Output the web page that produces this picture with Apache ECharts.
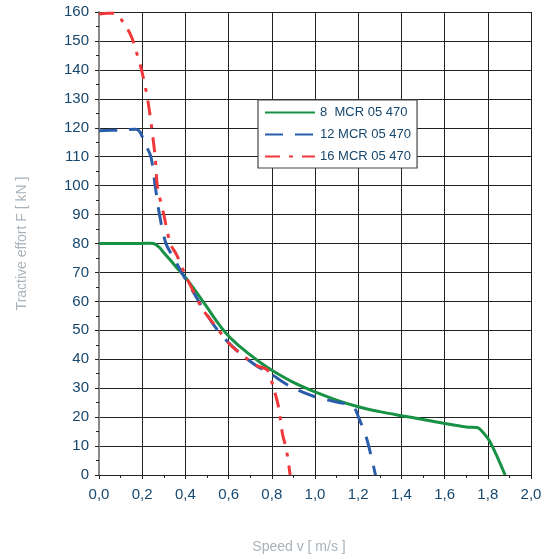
<!DOCTYPE html>
<html><head><meta charset="utf-8">
<script src="https://cdn.jsdelivr.net/npm/echarts@6/dist/echarts.min.js"></script>
<style>html,body{margin:0;padding:0;background:#fff}#c{width:550px;height:559px}</style>
</head><body><div id="c"></div>
<script>
var xTicks = ['0,0','0,2','0,4','0,6','0,8','1,0','1,2','1,4','1,6','1,8','2,0'];
var seriesNames = ['8  MCR 05 470','12 MCR 05 470','16 MCR 05 470'];
var mcr8 = [[0,80],[0.1,80],[0.2,80],[0.24,80.1],[0.26,79.8],[0.28,78.6],[0.3,76.8],[0.33,74.3],[0.36,71.6],[0.4,68.3],[0.45,63.3],[0.5,58],[0.55,52.6],[0.6,48],[0.65,44.5],[0.7,41.5],[0.75,38.7],[0.8,36.2],[0.9,32],[1.0,28.7],[1.1,25.9],[1.2,23.6],[1.3,21.9],[1.4,20.5],[1.5,19.2],[1.6,17.8],[1.7,16.6],[1.75,16.4],[1.77,15.4],[1.81,11.5],[1.88,0]];
var mcr12 = [[0,119],[0.1,119.2],[0.17,119.5],[0.19,118.5],[0.21,115],[0.24,110],[0.26,100],[0.28,90],[0.31,80],[0.35,74.5],[0.39,69],[0.43,64],[0.47,59],[0.53,52],[0.59,46.5],[0.67,41],[0.73,37.7],[0.79,35.2],[0.88,30.8],[0.99,27.3],[1.1,25.2],[1.175,23.8],[1.205,19.3],[1.24,12.4],[1.28,0]];
var mcr16 = [[0,159.3],[0.04,159.6],[0.075,159.5],[0.11,156.7],[0.15,151.5],[0.175,145.7],[0.195,140.5],[0.22,132],[0.235,125],[0.26,110],[0.27,100],[0.3,90],[0.33,80],[0.36,76],[0.4,69],[0.44,63],[0.48,57.2],[0.536,51.8],[0.605,45.2],[0.68,40.5],[0.73,37.8],[0.78,36.3],[0.805,30.8],[0.83,23.9],[0.85,14],[0.867,9],[0.885,0]];
var colors = ['#179244','#2a5daa','#f0383a'];
var chart = echarts.init(document.getElementById('c'));
var labelColor = '#16476e';
var gridColor = '#222';
var font = 'Liberation Sans, Arial, sans-serif';
chart.setOption({
  animation:false,
  grid:{left:99,right:19,top:12,bottom:83,containLabel:false},
  legend:{
    left:258, top:100, orient:'vertical', itemGap:9,
    padding:[6,6,5,6],
    backgroundColor:'#fff', borderColor:'#444', borderWidth:1.2,
    itemWidth:50, itemHeight:14,
    itemStyle:{opacity:0},
    textStyle:{color:labelColor, fontSize:13, fontFamily:font},
    data:seriesNames
  },
  xAxis:{
    type:'value', min:0, max:2, interval:0.2,
    name:'Speed v [ m/s ]', nameLocation:'middle', nameGap:65,
    nameTextStyle:{color:'#a8b3bc', fontSize:14, fontFamily:font, padding:[0,32,0,0]},
    axisLine:{show:true, lineStyle:{color:'#222', width:1}},
    axisTick:{show:true, length:4, lineStyle:{color:'#222'}},
    minorTick:{show:true, splitNumber:2, length:3, lineStyle:{color:'#222'}},
    splitLine:{show:true, lineStyle:{color:gridColor, width:1}},
    axisLabel:{color:labelColor, fontSize:15, margin:12, fontFamily:font,
      formatter:function(v){return xTicks[Math.round(v/0.2)];}}
  },
  yAxis:{
    type:'value', min:0, max:160, interval:10,
    name:'Tractive effort F [ kN ]', nameLocation:'middle', nameGap:70,
    nameTextStyle:{color:'#a8b3bc', fontSize:14, fontFamily:font},
    axisLine:{show:true, lineStyle:{color:'#888', width:2}},
    axisTick:{show:true, length:4, lineStyle:{color:'#222'}},
    minorTick:{show:true, splitNumber:2, length:3, lineStyle:{color:'#222'}},
    splitLine:{show:true, lineStyle:{color:gridColor, width:1}},
    axisLabel:{color:labelColor, fontSize:15, margin:10, fontFamily:font}
  },
  series:[
    {name:seriesNames[0], type:'line', data:mcr8, smooth:0.35, symbol:'none', color:colors[0],
     lineStyle:{width:3, color:colors[0]}, z:3},
    {name:seriesNames[1], type:'line', data:mcr12, smooth:0.3, symbol:'none', color:colors[1],
     lineStyle:{width:3, color:colors[1], type:[18,12]}, z:4},
    {name:seriesNames[2], type:'line', data:mcr16, smooth:0.3, symbol:'none', color:colors[2],
     lineStyle:{width:3, color:colors[2], type:[15,9,4,9]}, z:5}
  ]
});
</script></body></html>
